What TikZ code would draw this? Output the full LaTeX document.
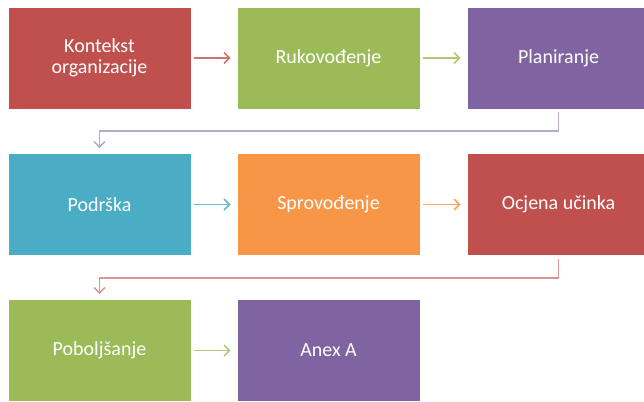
\documentclass[tikz,border=0pt]{standalone}
\usepackage{fontspec}
\setmainfont{Carlito}
\usetikzlibrary{arrows.meta}
\definecolor{cred}{HTML}{C0504D}
\definecolor{cgreen}{HTML}{9BBB59}
\definecolor{cpurple}{HTML}{8064A2}
\definecolor{cblue}{HTML}{4BACC6}
\definecolor{corange}{HTML}{F79646}
\tikzset{
  x=1pt, y=1pt,
  stage/.style={draw=white, line width=0.6pt, fill=#1, minimum width=183pt, minimum height=102pt,
    inner sep=0pt, text=white, align=center, font=\fontsize{20}{21}\selectfont},
  flow/.style={draw=#1, line width=1.6pt, -{Straight Barb[length=5.5pt,width=11pt]},
    shorten <=3pt, shorten >=6pt},
  turn/.style={draw=#1, line width=1.6pt, -{Straight Barb[length=5.5pt,width=11pt]},
    shorten <=3pt, shorten >=5pt}
}
\begin{document}
\begin{tikzpicture}
\useasboundingbox (0,0) rectangle (644,401);
\clip (0,0) rectangle (644,401);
\fill[white] (0,0) rectangle (644,401);
% row 1
\node[stage=cred]    (kon) at (99.5,343)  {Kontekst\\organizacije};
\node[stage=cgreen]  (ruk) at (328.5,343) {Rukovođenje};
\node[stage=cpurple] (pla) at (558.5,343) {Planiranje};
% row 2
\node[stage=cblue]   (pod) at (99.5,196.5)  {Podrška};
\node[stage=corange] (spr) at (328.5,196.5) {Sprovođenje};
\node[stage=cred]    (ocj) at (558.5,196.5) {Ocjena učinka};
% row 3
\node[stage=cgreen]  (pob) at (99.5,50.5)  {Poboljšanje};
\node[stage=cpurple] (anx) at (328.5,50.5) {Anex A};
% horizontal links
\draw[flow=cred!80!white]    (kon) -- (ruk);
\draw[flow=cgreen!80!white]  (ruk) -- (pla);
\draw[flow=cblue!85!white]   (pod) -- (spr);
\draw[flow=corange!85!white] (spr) -- (ocj);
\draw[flow=cgreen!80!white]  (pob) -- (anx);
% row-to-row links
\coordinate (t1) at (558.5,270);
\coordinate (t2) at (99.5,270);
\draw[turn=cpurple!55!white] (pla.south) -- (t1) -- (t2) -- (pod.north);
\coordinate (t3) at (558.5,123);
\coordinate (t4) at (99.5,123);
\draw[turn=cred!60!white] (ocj.south) -- (t3) -- (t4) -- (pob.north);
\end{tikzpicture}
\end{document}
